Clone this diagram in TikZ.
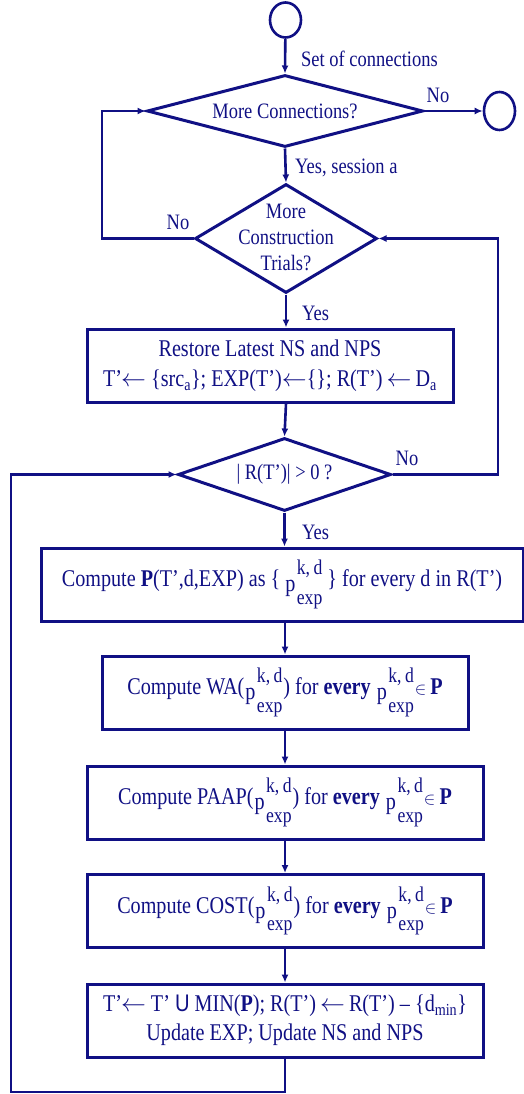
\documentclass[tikz,border=0pt]{standalone}
\usepackage{fontspec}
\setmainfont{Liberation Serif}[FakeStretch=0.84]
\newfontfamily\usans{Liberation Sans}[FakeStretch=0.84]
\usetikzlibrary{shapes.geometric,arrows.meta}
\definecolor{nv}{RGB}{16,16,132}
\newcommand\pkd{\kern1pt\raisebox{-0.22em}{p}\kern1.5pt{\fontsize{21}{21}\selectfont\rlap{\raisebox{0.56em}{k,\,d}}\raisebox{-0.85em}{exp}}\kern1pt}
\newcommand\elt{{\fontsize{17}{17}\selectfont$\in$}}
\newcommand\la{\,$\leftarrow$\,}
\begin{document}
\begin{tikzpicture}[x=1pt,y=-1pt,
  every node/.style={text=nv, font=\fontsize{22}{28}\selectfont},
  arr/.style={draw=nv, line width=2.6pt, -{Latex[length=8pt,width=7pt]}},
  box/.style={draw=nv, line width=3pt, rectangle, inner sep=0pt, align=center, minimum height=73pt, font=\fontsize{24}{29}\selectfont},
  dec/.style={draw=nv, line width=3pt, diamond, inner sep=0pt},
  term/.style={draw=nv, line width=2.6pt, ellipse, inner sep=0pt},
  lbl/.style={anchor=west, inner sep=0pt}]
\useasboundingbox (0,0) rectangle (524,1094);
\node[term, minimum width=31pt, minimum height=35pt] (start) at (285.5,20) {};
\node[dec, minimum width=276pt, minimum height=72pt] (d1) at (285,111) {};
\node (d1t) at (285,111) {More Connections?};
\node[term, minimum width=31pt, minimum height=38pt] (end) at (499.5,111) {};
\node[dec, minimum width=182pt, minimum height=109pt] (d2) at (286,238.5) {};
\node[align=center, font=\fontsize{22}{26}\selectfont] (d2t) at (286,237) {More\\Construction\\Trials?};
\node[box, minimum width=366pt] (b1) at (270,365.5) {Restore Latest NS and NPS\\[1pt]T’\kern-1pt$\leftarrow$\ \{src\textsubscript{a}\}; EXP(T’)$\leftarrow$\{\}; R(T’)\la D\textsubscript{a}};
\node[dec, minimum width=213pt, minimum height=73pt] (d3) at (284.5,474.5) {};
\node (d3t) at (284.5,474.5) {| R(T’)| > 0 ?};
\node[box, minimum width=482pt] (b2) at (282,584.5) {Compute \textbf{P}(T’,d,EXP) as \{\,\pkd\,\} for every d in R(T’)};
\node[box, minimum width=366pt] (b3) at (285,692.5) {Compute WA(\pkd) for \textbf{every} \pkd\elt\,\textbf{P}};
\node[box, minimum width=396pt] (b4) at (285,802.5) {Compute PAAP(\pkd) for \textbf{every} \pkd\elt\,\textbf{P}};
\node[box, minimum width=396pt] (b5) at (285,911) {Compute COST(\pkd) for \textbf{every} \pkd\elt\,\textbf{P}};
\node[box, minimum width=396pt] (b6) at (285,1020.5) {T’\kern-1pt$\leftarrow$ T’ {\usans U} MIN(\textbf{P}); R(T’)\la R(T’) – \{d\textsubscript{min}\}\\Update EXP; Update NS and NPS};
% labels
\node[lbl] (l1) at (301,59) {Set of connections};
\node (l2) at (438,95) {No};
\node[lbl] (l3) at (295,168) {Yes, session a};
\node (l4) at (178,222) {No};
\node[lbl] (l5) at (302,313) {Yes};
\node (l6) at (407,458) {No};
\node[lbl] (l7) at (302,532) {Yes};
% connectors
\coordinate (cl1) at (102,238.5);
\coordinate (cr1) at (498,474.5);
\coordinate (cb) at (11,1092);
\draw[arr] (start) -- (d1.north);
\draw[arr] (d1.east) -- (end.west);
\draw[arr] (d1.south) -- (d2.north);
\draw[arr] (d2.west) -- (cl1) |- (d1.west);
\draw[arr] (d2.south) -- (d2.south |- b1.north);
\draw[arr] (d2.south |- b1.south) -- (d3.north);
\draw[arr] (d3.east) -- (cr1) |- (d2.east);
\draw[arr] (d3.south) -- (d3.south |- b2.north);
\draw[arr] (b3.north |- b2.south) -- (b3.north);
\draw[arr] (b3.south) -- (b4.north);
\draw[arr] (b4.south) -- (b5.north);
\draw[arr] (b5.south) -- (b6.north);
\draw[arr] (b6.south) |- (cb) |- (d3.west);
\end{tikzpicture}
\end{document}
